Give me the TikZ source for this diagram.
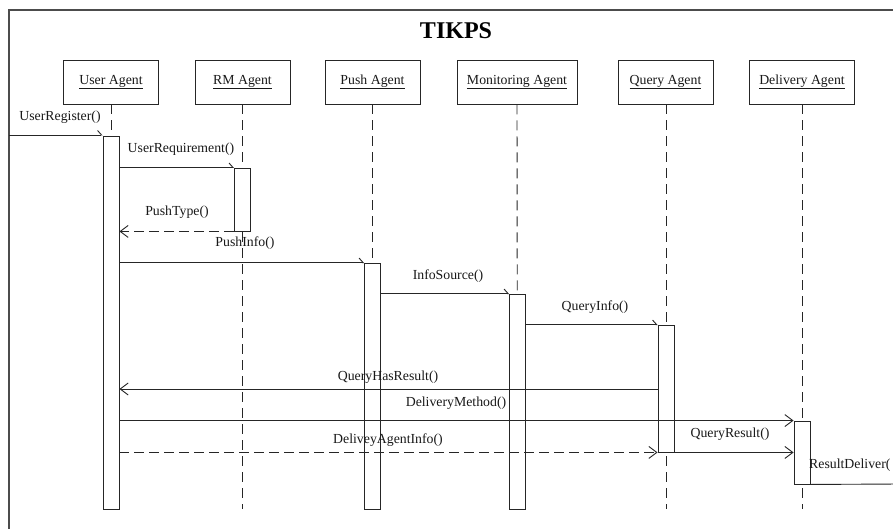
\documentclass[tikz,border=0pt]{standalone}
\usepackage{fontspec}
\setmainfont{Liberation Serif}
\usetikzlibrary{arrows.meta}
\begin{document}
\begin{tikzpicture}[x=1pt,y=-1pt,
  ln/.style={draw=black!85, line width=0.9pt},
  agent/.style={ln, rectangle, fill=white, minimum width=95pt, minimum height=44pt, inner xsep=10pt, font=\fontsize{13.8}{16}\selectfont, text=black!90},
  act/.style={ln, rectangle, fill=white, minimum width=16pt, inner sep=0pt},
  life/.style={ln, dash pattern=on 10pt off 6pt},
  msg/.style={ln, -{Straight Barb[harpoon,length=4pt,width=9pt]}},
  ret/.style={ln, -{Straight Barb[length=8pt,width=12pt]}},
  dret/.style={ret, dash pattern=on 10pt off 5pt},
  lbl/.style={font=\fontsize{13.8}{16}\selectfont, text=black!90, inner sep=0pt},
]
\useasboundingbox (0,0) rectangle (893,529);
\clip (0,0) rectangle (893,529);
\fill[white] (0,0) rectangle (893,529);
% frame
\draw[line width=1.5pt, draw=black!70] (900,10) -- (9,10) -- (9,540);
\node[font=\fontsize{24}{28}\selectfont\bfseries, text=black] (title) at (456,31) {TIKPS};
% agents
\node[agent] (U) at (111,82) {\underline{User Agent}};
\node[agent] (R) at (242.5,82) {\underline{RM Agent}};
\node[agent] (P) at (372.5,82) {\underline{Push Agent}};
\node[agent] (M) at (517,82) {\underline{Monitoring Agent}};
\node[agent] (Q) at (665.5,82) {\underline{Query Agent}};
\node[agent] (D) at (802,82) {\underline{Delivery Agent}};
% lifelines
\coordinate (Ue) at (111,509);
\coordinate (Re) at (242.5,509);
\coordinate (Pe) at (372.5,509);
\coordinate (Me) at (517.5,509);
\coordinate (Qe) at (666,509);
\coordinate (De) at (802,509);
\draw[life] (U.south) -- (Ue);
\draw[life] (R.south) -- (Re);
\draw[life] (P.south) -- (Pe);
\draw[life] (M.south) -- (Me);
\draw[life] (Q.south -| Qe) -- (Qe);
\draw[life] (D.south) -- (De);
% activations
\node[act, minimum height=373pt] (aU) at (111,322.5) {};
\node[act, minimum height=63pt] (aR) at (242.5,199.5) {};
\node[act, minimum height=246pt] (aP) at (372.5,386) {};
\node[act, minimum height=215pt] (aM) at (517.5,401.5) {};
\node[act, minimum height=127pt] (aQ) at (666,388.5) {};
\node[act, minimum height=63pt] (aD) at (802,452.5) {};
% messages
\coordinate (fr) at (9,135);
\coordinate (re) at (900,484);
\coordinate (qh) at (0,389);
\draw[msg] (fr) -- (fr -| aU.west);
\draw[msg] (aR.north west -| aU.east) -- (aR.north west);
\draw[dret] (aR.south west) -- (aR.south west -| aU.east);
\draw[msg] (aP.north west -| aU.east) -- (aP.north west);
\draw[msg] (aM.north west -| aP.east) -- (aM.north west);
\draw[msg] (aQ.north west -| aM.east) -- (aQ.north west);
\draw[ret] (qh -| aQ.west) -- (qh -| aU.east);
\draw[ret] (aD.north west -| aU.east) -- (aD.north west);
\draw[dret] (aQ.south west -| aU.east) -- (aQ.south west);
\draw[ret] (aQ.south east) -- (aQ.south east -| aD.west);
\draw[ln] (aD.south east) -- (re);
% labels
\node[lbl] (l1) at (60,117) {UserRegister()};
\node[lbl] (l2) at (181,149) {UserRequirement()};
\node[lbl] (l3) at (177,212) {PushType()};
\node[lbl] (l4) at (245,243) {PushInfo()};
\node[lbl] (l5) at (448,276) {InfoSource()};
\node[lbl] (l6) at (595,307) {QueryInfo()};
\node[lbl] (l7) at (388,377) {QueryHasResult()};
\node[lbl] (l8) at (456,403) {DeliveryMethod()};
\node[lbl] (l9) at (388,440) {DeliveyAgentInfo()};
\node[lbl] (l10) at (730,434) {QueryResult()};
\node[lbl, anchor=west] (l11) at (809,465) {ResultDeliver(};
\end{tikzpicture}
\end{document}
